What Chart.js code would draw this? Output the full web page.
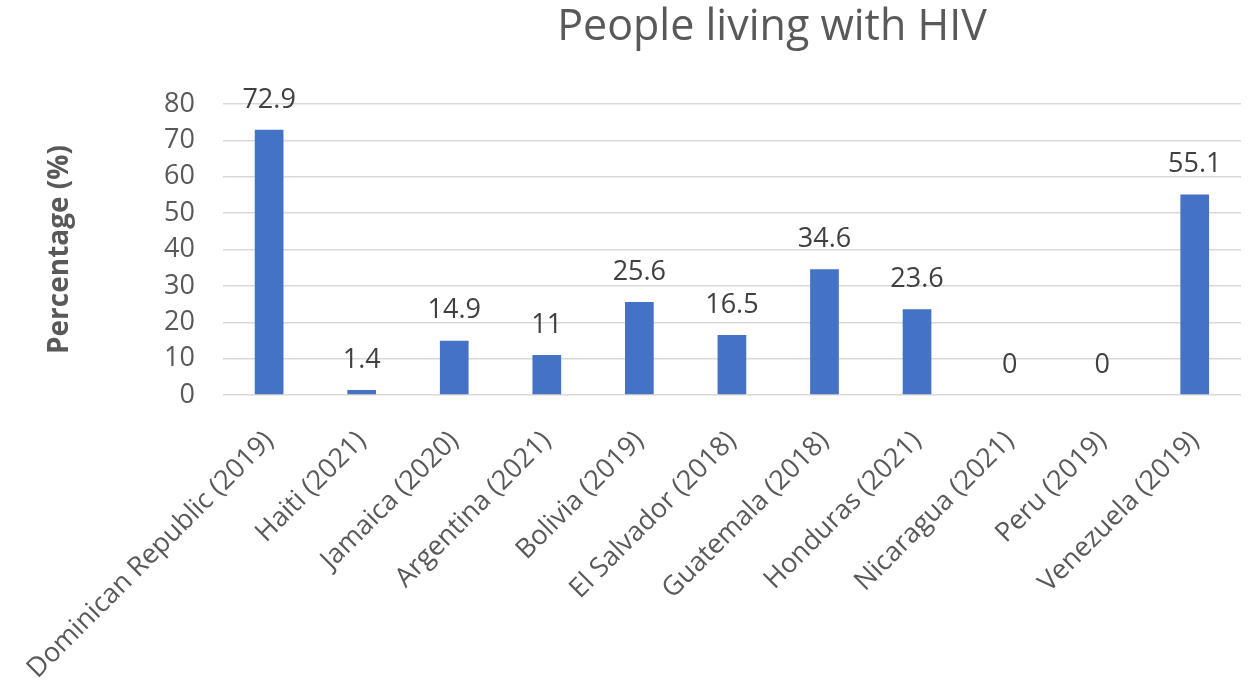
<!DOCTYPE html>
<html>
<head>
<meta charset="utf-8">
<script src="https://cdn.jsdelivr.net/npm/chart.js@4"></script>
<style>
  body{margin:0;background:#fff;}
  #wrap{width:1251px;height:683px;position:relative;}
</style>
</head>
<body>
<div id="wrap"><canvas id="hivChart"></canvas></div>
<script>
const countries = ["Dominican Republic (2019)", "Haiti (2021)", "Jamaica (2020)", "Argentina (2021)",
  "Bolivia (2019)", "El Salvador (2018)", "Guatemala (2018)", "Honduras (2021)",
  "Nicaragua (2021)", "Peru (2019)", "Venezuela (2019)"];
const percentages = [72.9, 1.4, 14.9, 11, 25.6, 16.5, 34.6, 23.6, 0, 0, 55.1];
const yTicks = [0, 10, 20, 30, 40, 50, 60, 70, 80];
const chartTitle = "People living with HIV";
const yTitle = "Percentage (%)";

const FONT = "'Open Sans', sans-serif";
const GREY = "#595959";

// labels above the bars + title
const labelPlugin = {
  id: 'barLabels',
  afterDatasetsDraw(chart){
    const ctx = chart.ctx;
    const meta = chart.getDatasetMeta(0);
    ctx.save();
    ctx.font = "27px " + FONT;
    ctx.fillStyle = "#404040";
    ctx.textAlign = "center";
    ctx.textBaseline = "middle";
    meta.data.forEach(function(bar, i){
      ctx.fillText(String(percentages[i]), bar.x, bar.y - 30);
    });
    ctx.font = "43px " + FONT;
    ctx.fillStyle = GREY;
    ctx.fillText(chartTitle, 772, 28);
    ctx.restore();
  }
};

new Chart(document.getElementById('hivChart').getContext('2d'), {
  type: 'bar',
  data: {
    labels: countries,
    datasets: [{
      data: percentages,
      backgroundColor: "#4472C4",
      categoryPercentage: 1,
      barPercentage: 0.31
    }]
  },
  options: {
    responsive: true,
    maintainAspectRatio: false,
    animation: false,
    layout: { padding: { top: 104, right: 10, left: 0, bottom: 0 } },
    plugins: { legend: { display: false }, tooltip: { enabled: false } },
    scales: {
      x: {
        grid: { display: false },
        border: { display: false },
        ticks: {
          color: GREY, font: { family: FONT, size: 27 },
          maxRotation: 45, minRotation: 45, autoSkip: false, padding: 22
        },
        afterFit(scale){ scale.height = 288; }
      },
      y: {
        min: 0, max: 80,
        afterBuildTicks(scale){ scale.ticks = yTicks.map(v => ({ value: v })); },
        grid: { color: "#d9d9d9", lineWidth: 1.5, drawTicks: false },
        border: { display: false },
        ticks: { color: GREY, font: { family: FONT, size: 27 }, padding: 28 },
        title: {
          display: true, text: yTitle, color: GREY,
          font: { family: FONT, size: 28, weight: 'bold' },
          padding: { top: 42, bottom: 0 }
        },
        afterFit(scale){ scale.width = 222; }
      }
    }
  },
  plugins: [labelPlugin]
});
</script>
</body>
</html>
